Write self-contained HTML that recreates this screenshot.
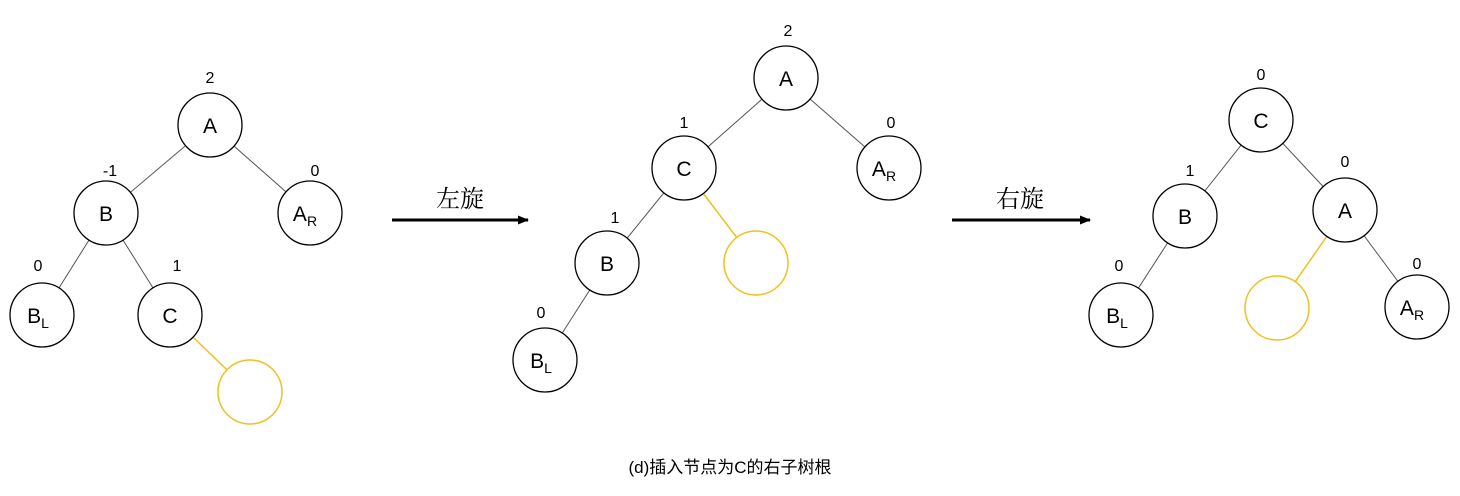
<!DOCTYPE html>
<html><head><meta charset="utf-8"><style>
body{margin:0;background:#fff;}
svg text{font-family:"Liberation Sans","Noto Sans CJK SC",sans-serif;}
</style></head><body>
<svg width="1460" height="491" viewBox="0 0 1460 491" xmlns="http://www.w3.org/2000/svg">
<defs><marker id="ah" markerUnits="userSpaceOnUse" markerWidth="11" markerHeight="9" refX="10" refY="4.5" orient="auto"><path d="M0,0 L11,4.5 L0,9 z" fill="#000"/></marker></defs>
<g stroke="#555" stroke-width="1">
<line x1="210" y1="125" x2="106" y2="213"/><line x1="210" y1="125" x2="310" y2="213"/>
<line x1="106" y1="213" x2="42" y2="315"/><line x1="106" y1="213" x2="170" y2="315"/>
<line x1="786" y1="78" x2="684" y2="168"/><line x1="786" y1="78" x2="889" y2="168"/>
<line x1="684" y1="168" x2="607" y2="263"/><line x1="607" y1="263" x2="545" y2="360"/>
<line x1="1261" y1="120" x2="1185" y2="216"/><line x1="1261" y1="120" x2="1345" y2="210"/>
<line x1="1185" y1="216" x2="1121" y2="315"/><line x1="1345" y1="210" x2="1417" y2="307"/>
</g>
<g stroke="#f0c020" stroke-width="1.5">
<line x1="170" y1="315" x2="250" y2="392"/>
<line x1="684" y1="168" x2="756" y2="263"/>
<line x1="1345" y1="210" x2="1277" y2="308"/>
</g>
<g fill="#fff" stroke="#000" stroke-width="1.3">
<circle cx="210" cy="125" r="32"/><circle cx="106" cy="213" r="32"/><circle cx="310" cy="213" r="32"/>
<circle cx="42" cy="315" r="32"/><circle cx="170" cy="315" r="32"/>
<circle cx="786" cy="78" r="32"/><circle cx="684" cy="168" r="32"/><circle cx="889" cy="168" r="32"/>
<circle cx="607" cy="263" r="32"/><circle cx="545" cy="360" r="32"/>
<circle cx="1261" cy="120" r="32"/><circle cx="1185" cy="216" r="32"/><circle cx="1345" cy="210" r="32"/>
<circle cx="1121" cy="315" r="32"/><circle cx="1417" cy="307" r="32"/>
</g>
<g fill="#fff" stroke="#f0c020" stroke-width="1.5">
<circle cx="250" cy="392" r="32"/><circle cx="756" cy="263" r="32"/><circle cx="1277" cy="308" r="32"/>
</g>
<g font-size="21" text-anchor="middle" fill="#000">
<text x="210" y="133">A</text><text x="106" y="221">B</text><text x="170" y="323">C</text>
<text x="305" y="221">A<tspan font-size="14" dy="5">R</tspan></text>
<text x="38" y="323">B<tspan font-size="14" dy="5">L</tspan></text>
<text x="786" y="86">A</text><text x="684" y="176">C</text><text x="607" y="271">B</text>
<text x="884" y="176">A<tspan font-size="14" dy="5">R</tspan></text>
<text x="541" y="368">B<tspan font-size="14" dy="5">L</tspan></text>
<text x="1261" y="128">C</text><text x="1185" y="224">B</text><text x="1345" y="218">A</text>
<text x="1117" y="323">B<tspan font-size="14" dy="5">L</tspan></text>
<text x="1412" y="315">A<tspan font-size="14" dy="5">R</tspan></text>
</g>
<g font-size="16" text-anchor="middle" fill="#000">
<text x="210" y="83">2</text><text x="110" y="176">-1</text><text x="315" y="176">0</text>
<text x="38" y="271">0</text><text x="177" y="271">1</text>
<text x="788" y="36">2</text><text x="684" y="128">1</text><text x="891" y="128">0</text>
<text x="615" y="223">1</text><text x="541" y="318">0</text>
<text x="1261" y="80">0</text><text x="1190" y="176">1</text><text x="1345" y="167">0</text>
<text x="1119" y="271">0</text><text x="1417" y="269">0</text>
</g>
<line x1="392" y1="220" x2="528" y2="220" stroke="#000" stroke-width="3" marker-end="url(#ah)"/>
<line x1="952" y1="220" x2="1090" y2="220" stroke="#000" stroke-width="3" marker-end="url(#ah)"/>
<g font-size="24" text-anchor="middle">
<text x="460" y="207" style="font-family:'Noto Serif CJK SC',serif">左旋</text>
<text x="1020" y="207" style="font-family:'Noto Serif CJK SC',serif">右旋</text>
</g>
<text x="730" y="473" font-size="17" text-anchor="middle">(d)插入节点为C的右子树根</text>
</svg>
</body></html>
